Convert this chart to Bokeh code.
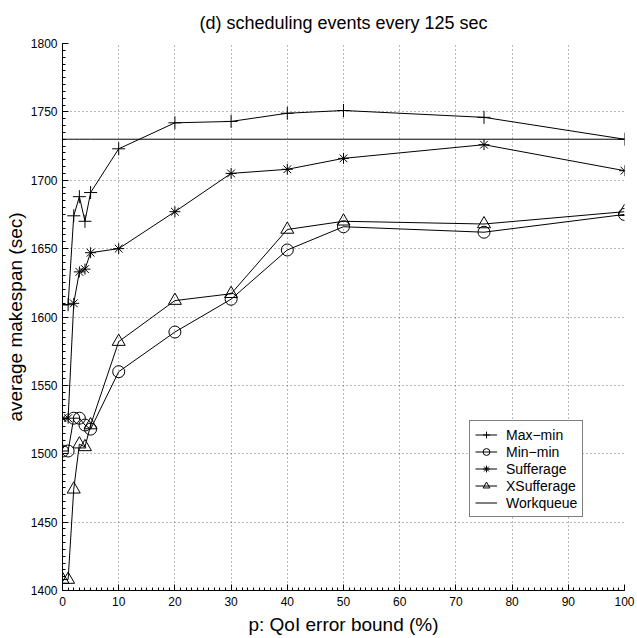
from bokeh.plotting import figure
from bokeh.models import Range1d, SingleIntervalTicker, Legend, LegendItem, ColumnDataSource
from bokeh.embed import file_html
from bokeh.resources import INLINE

# ---- data ----
p_err = [0, 1, 2, 3, 4, 5, 10, 20, 30, 40, 50, 75, 100]
max_min = [1609, 1609, 1674, 1688, 1670, 1691, 1723, 1742, 1743, 1749, 1751, 1746, 1730]
min_min = [1502, 1502, 1526, 1526, 1521, 1518, 1560, 1589, 1613, 1649, 1666, 1662, 1675]
sufferage = [1526, 1526, 1610, 1633, 1635, 1647, 1650, 1677, 1705, 1708, 1716, 1726, 1707]
xsufferage = [1408, 1408, 1474, 1507, 1505, 1521, 1582, 1612, 1617, 1664, 1670, 1668, 1677]
workqueue = [1730, 1730, 1730, 1730, 1730, 1730, 1730, 1730, 1730, 1730, 1730, 1730, 1730]

title_text = "(d) scheduling events every 125 sec"
x_label = "p: QoI error bound (%)"
y_label = "average makespan (sec)"

FONT = "Liberation Sans"

src = ColumnDataSource(dict(x=p_err, maxmin=max_min, minmin=min_min,
                            suff=sufferage, xsuff=xsufferage, wq=workqueue))

p = figure(width=637, height=638, x_range=Range1d(0, 100), y_range=Range1d(1400, 1800),
           output_backend="svg", toolbar_location=None, title=title_text)
p.min_border_left = 62
p.min_border_right = 13
p.min_border_top = 43
p.min_border_bottom = 48
p.outline_line_color = None
p.background_fill_color = "white"
p.border_fill_color = "white"

p.title.text_font = FONT
p.title.text_font_size = "18px"
p.title.text_font_style = "normal"
p.title.align = "center"
p.title.text_color = "black"
p.title.standoff = 21

xt = SingleIntervalTicker(interval=10, num_minor_ticks=10)
yt = SingleIntervalTicker(interval=50, num_minor_ticks=10)
p.xaxis.ticker = xt
p.yaxis.ticker = yt
p.xgrid.ticker = xt
p.ygrid.ticker = yt

for ax in (p.xaxis[0], p.yaxis[0]):
    ax.axis_line_color = "black"
    ax.axis_line_width = 1
    ax.major_tick_in = 6
    ax.major_tick_out = 0
    ax.minor_tick_in = 3
    ax.minor_tick_out = 0
    ax.major_tick_line_color = "black"
    ax.minor_tick_line_color = "black"
    ax.major_label_text_font = FONT
    ax.major_label_text_font_size = "12px"
    ax.major_label_text_color = "black"
    ax.axis_label_text_font = FONT
    ax.axis_label_text_font_size = "19px"
    ax.axis_label_text_font_style = "normal"
    ax.axis_label_text_color = "black"

p.xaxis.axis_label = x_label
p.yaxis.axis_label = y_label
p.xaxis.major_label_standoff = 6
p.xaxis.axis_label_standoff = 5
p.yaxis.major_label_standoff = 5
p.yaxis.axis_label_standoff = 2

for g in (p.xgrid[0], p.ygrid[0]):
    g.grid_line_color = "black"
    g.grid_line_alpha = 0.55
    g.grid_line_dash = "1 3"
    g.grid_line_width = 1

items = []
series = [("Max\u2212min", "maxmin", "cross", 13),
          ("Min\u2212min", "minmin", "circle", 12),
          ("Sufferage", "suff", "asterisk", 11),
          ("XSufferage", "xsuff", "triangle", 13)]
for label, col, marker, size in series:
    lr = p.line("x", col, source=src, line_color="black", line_width=1)
    sr = p.scatter("x", col, source=src, marker=marker, size=size,
                   line_color="black", fill_color=None, line_width=1)
    items.append(LegendItem(label=label, renderers=[lr, sr]))

wr = p.line("x", "wq", source=src, line_color="black", line_width=1)
items.append(LegendItem(label="Workqueue", renderers=[wr]))

legend = Legend(items=items, location=(407, 73))
legend.label_text_font = FONT
legend.label_text_font_size = "14px"
legend.label_text_color = "black"
legend.glyph_width = 22
legend.glyph_height = 17
legend.label_height = 17
legend.spacing = 0
legend.padding = 5
legend.margin = 0
legend.label_standoff = 9
legend.border_line_color = "black"
legend.border_line_width = 1
legend.background_fill_color = "white"
legend.background_fill_alpha = 1
p.add_layout(legend)

open("out.html", "w").write(file_html(p, INLINE))
